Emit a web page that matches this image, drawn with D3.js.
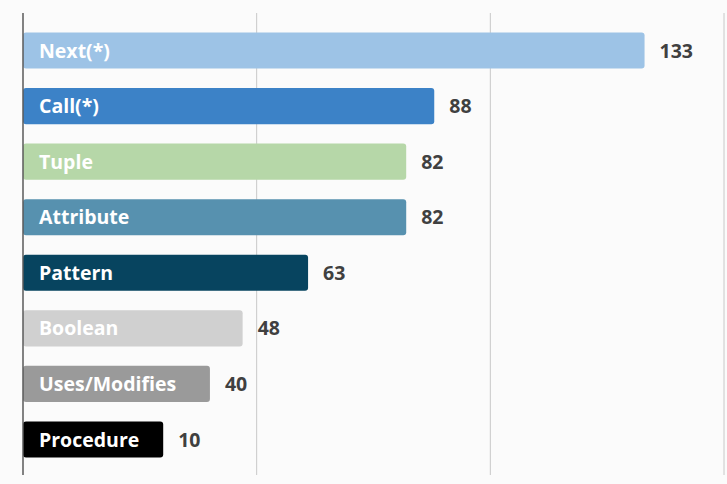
<!DOCTYPE html>
<html>
<head>
<meta charset="utf-8">
<script src="https://cdn.jsdelivr.net/npm/d3@7"></script>
<style>
  html, body { margin: 0; padding: 0; background: #fbfbfb; }
  svg { display: block; }
</style>
</head>
<body>
<svg id="chart" width="727" height="484"></svg>
<script>
// ---- data ----
const categories = ["Next(*)", "Call(*)", "Tuple", "Attribute", "Pattern", "Boolean", "Uses/Modifies", "Procedure"];
// bar lengths as drawn in the reference
const values = [133, 88, 82, 82, 61, 47, 40, 30];
// value labels as printed in the reference
const valueLabels = ["133", "88", "82", "82", "63", "48", "40", "10"];
const colors = ["#9dc3e6", "#3c82c7", "#b6d7a8", "#5791af", "#07445f", "#d0d0d0", "#9a9a9a", "#000000"];
const gridTicks = [0, 50, 100, 150];

// ---- layout ----
const svg = d3.select("#chart");
const margin = { left: 23, right: 3, top: 13, bottom: 9 };
const W = 727, H = 484;

const x = d3.scaleLinear().domain([0, 150]).range([margin.left, W - margin.right]);
const y = d3.scaleBand().domain(categories).range([23, 467]).paddingInner(0.35).paddingOuter(0.17);

// gridlines
svg.append("g").selectAll("line").data(gridTicks.slice(1)).join("line")
  .attr("x1", d => x(d)).attr("x2", d => x(d))
  .attr("y1", margin.top).attr("y2", H - margin.bottom)
  .attr("stroke", "#c8c8c8").attr("stroke-width", 1);

// bars
svg.append("g").selectAll("rect").data(categories).join("rect")
  .attr("x", x(0))
  .attr("y", d => y(d))
  .attr("width", (d, i) => x(values[i]) - x(0))
  .attr("height", y.bandwidth())
  .attr("rx", 3)
  .attr("fill", (d, i) => colors[i]);

// axis line
svg.append("line")
  .attr("x1", x(0)).attr("x2", x(0))
  .attr("y1", margin.top).attr("y2", H - margin.bottom)
  .attr("stroke", "#5a5a5a").attr("stroke-width", 1.5);

// category labels inside bars
svg.append("g").selectAll("text").data(categories).join("text")
  .attr("x", x(0) + 16)
  .attr("y", d => y(d) + y.bandwidth() / 2)
  .attr("dy", "0.36em")
  .attr("fill", "#ffffff")
  .attr("font-family", "'Open Sans', sans-serif")
  .attr("font-weight", "bold")
  .attr("font-size", "19.5px")
  .text(d => d);

// value labels
svg.append("g").selectAll("text").data(categories).join("text")
  .attr("x", (d, i) => x(values[i]) + 15)
  .attr("y", d => y(d) + y.bandwidth() / 2)
  .attr("dy", "0.36em")
  .attr("fill", "#404040")
  .attr("font-family", "'Open Sans', sans-serif")
  .attr("font-weight", "bold")
  .attr("font-size", "19.5px")
  .text((d, i) => valueLabels[i]);
</script>
</body>
</html>
